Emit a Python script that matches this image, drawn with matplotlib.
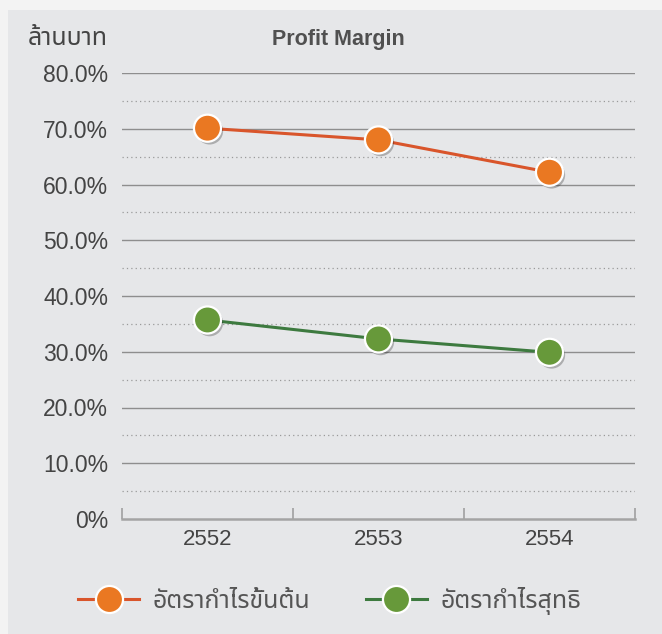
import matplotlib.pyplot as plt
import matplotlib.patheffects as pe
from matplotlib.patches import Rectangle

plt.rcParams['font.family'] = ['Liberation Sans', 'Noto Sans Thai', 'Loma', 'Garuda',
                               'Noto Sans', 'DejaVu Sans']

years = ['2552', '2553', '2554']
gross_margin = [70.1, 68.0, 62.2]
net_margin = [35.7, 32.3, 29.9]
series_names = ['อัตรากำไรขั้นต้น', 'อัตรากำไรสุทธิ']

fig = plt.figure(figsize=(6.62, 6.34), dpi=100, facecolor='#f3f3f3')
fig.patches.append(Rectangle((8 / 662, 0), 1, 1 - 10 / 634, transform=fig.transFigure,
                             facecolor='#e6e7e9', edgecolor='none', zorder=-5))

ax = fig.add_axes([122 / 662, 1 - 519 / 634, 513 / 662, 446 / 634])
ax.set_facecolor('none')
ax.set_zorder(2)

x = range(len(years))
shadow = [pe.SimplePatchShadow(offset=(1.5, -2), shadow_rgbFace='k', alpha=0.25), pe.Normal()]

ax.plot(x, gross_margin, color='#d9552b', lw=2.2, zorder=3)
ax.plot(x, net_margin, color='#3d7a3f', lw=2.2, zorder=3)
ax.plot(x, gross_margin, 'o', ms=19.5, mfc='#ea7822', mec='white', mew=1.6, zorder=4,
        path_effects=shadow)
ax.plot(x, net_margin, 'o', ms=19.5, mfc='#67993a', mec='white', mew=1.6, zorder=4,
        path_effects=shadow)

# legend handles
h1, = ax.plot([], [], '-o', color='#d9552b', lw=2.2, ms=19.5, mfc='#ea7822', mec='white', mew=1.6)
h2, = ax.plot([], [], '-o', color='#3d7a3f', lw=2.2, ms=19.5, mfc='#67993a', mec='white', mew=1.6)
leg = fig.legend([h1, h2], series_names, loc='center left',
                 bbox_to_anchor=(78 / 662, 1 - 601 / 634), bbox_transform=fig.transFigure,
                 ncol=2, frameon=False, fontsize=18, handlelength=2.44, columnspacing=2.2,
                 handletextpad=0.56, borderpad=0, borderaxespad=0, labelcolor='#555555')

ax.set_xlim(-0.5, 2.5)
ax.set_ylim(0, 80)
for v in range(10, 81, 10):
    ax.axhline(v, color='#8e8e8e', lw=1, zorder=1)
for v in range(5, 80, 10):
    ax.axhline(v, color='#9a9a9a', lw=0.9, ls=(0, (1, 2.5)), zorder=1)

ax.set_yticks(range(0, 81, 10))
ax.set_yticklabels(['0%'] + ['%.1f%%' % v for v in range(10, 81, 10)])
ax.set_xticks(list(x))
ax.set_xticklabels(years)
ax.set_xticks([-0.5, 0.5, 1.5, 2.5], minor=True)
ax.tick_params(axis='y', length=0, pad=10, labelsize=16.5, labelcolor='#444444')
ax.tick_params(axis='x', which='major', length=0, pad=7, labelsize=16, labelcolor='#444444')
ax.tick_params(axis='x', which='minor', direction='in', length=8, width=1.2, color='#a0a0a0')

for s in ['top', 'right', 'left']:
    ax.spines[s].set_visible(False)
ax.spines['bottom'].set_color('#a4a4a4')
ax.spines['bottom'].set_linewidth(1.8)

fig.text(28 / 662, 1 - 38 / 634, 'ล้านบาท', fontsize=18, color='#444444', va='center')
fig.text(338 / 662, 1 - 39 / 634, 'Profit Margin', fontsize=15.5, fontweight='bold',
         color='#505050', va='center', ha='center')

fig.savefig('out.png', dpi=100, facecolor=fig.get_facecolor())
